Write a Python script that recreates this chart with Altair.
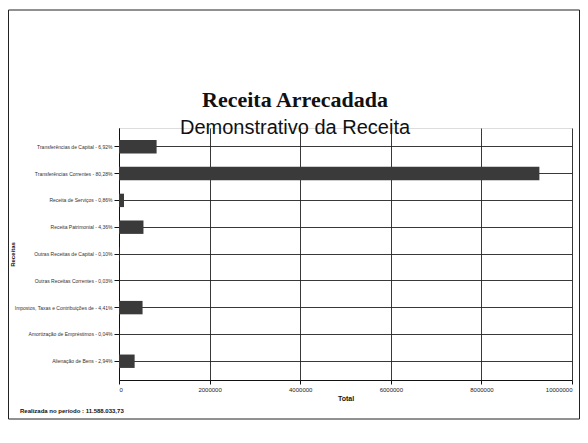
import altair as alt
import pandas as pd

categories = [
    "Transferências de Capital - 6,92%",
    "Transferências Correntes - 80,28%",
    "Receita de Serviços - 0,86%",
    "Receita Patrimonial - 4,36%",
    "Outras Receitas de Capital - 0,10%",
    "Outras Receitas Correntes - 0,03%",
    "Impostos, Taxas e Contribuições de - 4,41%",
    "Amortização de Empréstimos - 0,04%",
    "Alienação de Bens - 2,94%",
]
totals = [830000, 9280000, 110000, 540000, 12000, 4000, 520000, 5000, 345000]
x_ticks = [0, 2000000, 4000000, 6000000, 8000000, 10000000]
title_text = "Receita Arrecadada"
subtitle_text = "Demonstrativo da Receita"
footer = "Realizada no período : 11.588.033,73"

df = pd.DataFrame({"Receitas": categories, "Total": totals})

bars = alt.Chart(df).mark_bar(color="#3a3a3a").encode(
    y=alt.Y(
        "Receitas:N",
        sort=categories,
        scale=alt.Scale(paddingInner=0.5, paddingOuter=0.45),
        axis=alt.Axis(
            title="Receitas",
            titleFont="Liberation Sans",
            titleFontSize=6,
            titleFontWeight="bold",
            titleX=-104,
            titleY=126,
            titleColor="#111",
            labelFont="Liberation Sans",
            labelFontSize=5,
            labelColor="#333",
            labelLimit=200,
            tickSize=5,
            tickColor="#111",
            domainColor="#111",
            grid=True,
            gridColor="#222",
            gridWidth=0.9,
        ),
    ),
    x=alt.X(
        "Total:Q",
        scale=alt.Scale(domain=[0, 10000000], nice=False),
        axis=alt.Axis(
            values=x_ticks,
            format="d",
            title="Total",
            titleFont="Liberation Sans",
            titleFontSize=7,
            titleFontWeight="bold",
            titleColor="#111",
            titlePadding=2,
            labelFont="Liberation Sans",
            labelFontSize=6,
            labelColor="#222",
            labelFlush=True,
            tickSize=4,
            tickColor="#111",
            domainColor="#111",
            grid=True,
            gridColor="#222",
            gridWidth=0.9,
        ),
    ),
)

one = pd.DataFrame({"t": [0]})
frame = alt.Chart(one).mark_rect(fill=None, stroke="#222", strokeWidth=1, clip=False).encode(
    x=alt.value(-110.5), x2=alt.value(460.5), y=alt.value(-118), y2=alt.value(291)
)

title = alt.Chart(one).mark_text(
    text=title_text, align="center", baseline="alphabetic", font="Liberation Serif",
    fontSize=22, fontWeight="bold", color="#111"
).encode(x=alt.value(176), y=alt.value(-21))

subtitle = alt.Chart(one).mark_text(
    text=subtitle_text, align="center", baseline="alphabetic", font="Liberation Sans",
    fontSize=20, color="#111"
).encode(x=alt.value(176), y=alt.value(6))

foot = alt.Chart(one).mark_text(
    text=footer, align="left", baseline="middle", font="Liberation Sans",
    fontSize=6, fontWeight="bold", color="#111"
).encode(x=alt.value(-99), y=alt.value(283))

chart = alt.layer(frame, bars, title, subtitle, foot).properties(
    width=453,
    height=252,
    autosize=alt.AutoSizeParams(type="none"),
    padding={"left": 111, "top": 120, "right": 8, "bottom": 40},
).configure_view(stroke=None).configure(background="white")

chart.save("out.html", embed_options={"renderer": "svg", "actions": False})
